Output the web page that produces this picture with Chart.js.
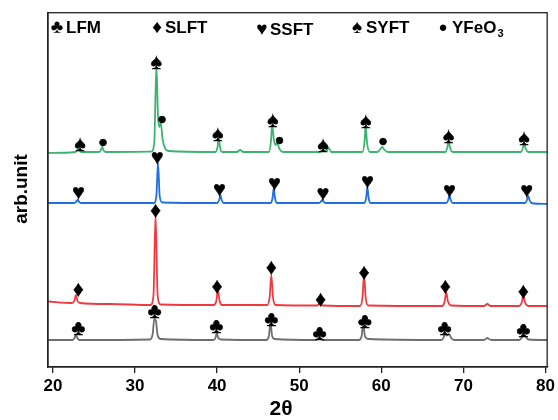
<!DOCTYPE html>
<html>
<head>
<meta charset="utf-8">
<script src="https://cdn.jsdelivr.net/npm/chart.js@4.4.1/dist/chart.umd.min.js"></script>
<style>
  html, body { margin: 0; padding: 0; background: #fff; }
  #wrap { width: 558px; height: 420px; position: relative; }
</style>
</head>
<body>
<div id="wrap"><canvas id="xrdChart"></canvas></div>
<script>
/*
  XRD patterns of LFM, SLFT, SSFT and SYFT, stacked with offsets.
  Intensities are in arbitrary units.
*/
const xTicks = [20, 30, 40, 50, 60, 70, 80];

// LFM (grey)
const lfmX = [19.4, 22.35, 22.6, 22.8, 23.0, 23.25, 31.8, 32.15, 32.35, 32.55, 32.75, 33.1, 39.5, 39.8, 39.95, 40.15, 40.5, 46.0, 46.3, 46.5, 46.7, 47.0, 52.0, 52.3, 52.45, 52.6, 52.9, 57.3, 57.6, 57.8, 58.0, 58.4, 67.3, 67.6, 67.75, 67.95, 68.25, 68.5, 68.9, 72.5, 72.8, 72.9, 73.1, 73.4, 76.8, 77.1, 77.3, 77.55, 77.9, 80.2];
const lfmY = [27, 27, 28.5, 32, 28.5, 27, 27.5, 33, 48, 46, 32, 28, 27, 29, 34, 29, 27.5, 27, 31, 44, 31, 28, 27, 28.5, 30, 28.5, 27, 27, 31, 44, 31, 28, 27, 29.5, 34, 31.5, 33, 29, 27, 27, 28.5, 29, 28, 27, 27, 29.5, 34, 31, 27.5, 27];

// SLFT (red)
const slftX = [19.4, 22.3, 22.6, 22.8, 23.0, 23.3, 27.0, 31.9, 32.25, 32.5, 32.75, 33.1, 39.6, 39.9, 40.1, 40.3, 40.6, 46.1, 46.4, 46.6, 46.8, 47.1, 52.1, 52.35, 52.5, 52.65, 52.9, 57.4, 57.7, 57.9, 58.1, 58.4, 67.4, 67.7, 67.9, 68.1, 68.5, 72.5, 72.9, 73.3, 76.8, 77.1, 77.3, 77.5, 77.9, 80.2];
const slftY = [65.5, 64, 66, 72, 66, 64, 63, 62, 72, 152, 72, 62.5, 62, 66, 77, 66, 62, 62, 70, 92, 70, 62, 61.5, 62.5, 64, 62.5, 61.5, 61, 69, 92, 69, 61.5, 61, 65, 75, 66, 61.5, 61, 63, 61, 61, 64.5, 71, 64.5, 61, 61];

// SSFT (blue)
const ssftX = [19.4, 22.6, 22.85, 23.0, 23.15, 23.4, 32.3, 32.6, 32.8, 33.0, 33.3, 40.0, 40.25, 40.4, 40.55, 40.8, 46.5, 46.75, 46.9, 47.05, 47.3, 52.4, 52.65, 52.8, 52.95, 53.2, 57.9, 58.15, 58.3, 58.45, 58.7, 67.9, 68.15, 68.3, 68.45, 68.7, 77.5, 77.75, 77.9, 78.05, 78.3, 80.2];
const ssftY = [164, 164, 165.5, 167, 165.5, 164, 164, 171, 204, 171, 164.5, 164, 167, 172, 167, 164, 164, 169, 179, 169, 164, 164, 165.5, 167, 165.5, 164, 164, 169, 180, 169, 164, 164, 167, 172, 167, 164, 164, 167, 171, 167, 164, 163];

// SYFT (green)
const syftX = [19.4, 22.7, 22.95, 23.1, 23.25, 23.5, 25.6, 25.85, 26.0, 26.15, 26.4, 32.0, 32.35, 32.6, 32.8, 32.95, 33.15, 33.35, 33.7, 34.1, 39.8, 40.05, 40.2, 40.35, 40.6, 42.4, 42.8, 43.2, 46.3, 46.55, 46.7, 46.9, 47.1, 47.3, 47.6, 48.0, 52.5, 52.75, 52.9, 53.05, 53.3, 53.6, 53.9, 57.7, 57.95, 58.1, 58.25, 58.6, 59.5, 59.85, 60.1, 60.35, 60.8, 67.8, 68.05, 68.2, 68.35, 68.7, 77.0, 77.25, 77.4, 77.55, 77.9, 80.2];
const syftY = [214, 215, 216.5, 219, 216.5, 215, 215, 217, 220, 217, 215, 215.5, 225, 302, 250, 240, 244, 228, 218, 216, 215, 220, 229, 220, 215, 215, 217, 215, 215, 225, 242, 228, 222, 224, 218, 215, 215, 216.5, 219, 216.5, 216, 219, 215, 215, 225, 242, 225, 215, 215, 217.5, 220, 217.5, 215, 215, 220, 227, 220, 215, 215, 219, 224, 219, 215, 215];

// phase markers
const clubX = [23.1, 32.4, 39.9, 46.6, 52.5, 58.0, 67.7, 77.3];
const clubY = [38, 55, 40, 47, 33, 45, 38, 36];
const diamondX = [23.1, 32.5, 40.0, 46.6, 52.6, 57.9, 67.8, 77.3];
const diamondY = [77, 156, 80, 99, 67, 94, 80, 75];
const heartX = [23.1, 32.7, 40.3, 47.0, 52.9, 58.3, 68.3, 77.7];
const heartY = [174, 209, 177, 183, 173, 185, 176, 176];
const spadeX = [23.3, 32.6, 40.1, 46.8, 52.9, 58.1, 68.2, 77.4];
const spadeY = [222, 304, 232, 246, 221, 245, 230, 228];
const dotX = [26.1, 33.3, 47.6, 60.2];
const dotY = [224, 247, 226, 225];

const FONT = "'Liberation Sans', Arial, sans-serif";

function pts(xs, ys) {
  return xs.map((x, i) => ({ x: x, y: ys[i] }));
}

function lineSet(label, xs, ys, color) {
  return {
    label: label,
    data: pts(xs, ys),
    borderColor: color,
    borderWidth: 1.8,
    pointRadius: 0,
    cubicInterpolationMode: "monotone",
    fill: false,
  };
}

const markerSets = [
  { glyph: "\u2663", xs: clubX, ys: clubY },
  { glyph: "\u2666", xs: diamondX, ys: diamondY },
  { glyph: "\u2665", xs: heartX, ys: heartY },
  { glyph: "\u2660", xs: spadeX, ys: spadeY },
  { glyph: "\u25CF", xs: dotX, ys: dotY, size: 16 },
];

const legendItems = [
  { glyph: "\u2663", text: "LFM", gx: 57, tx: 66, y: 28 },
  { glyph: "\u2666", text: "SLFT", gx: 157, tx: 165, y: 28 },
  { glyph: "\u2665", text: "SSFT", gx: 262, tx: 270, y: 30 },
  { glyph: "\u2660", text: "SYFT", gx: 357, tx: 366, y: 28 },
  { glyph: "\u25CF", text: "YFeO", sub: "3", gx: 443, tx: 452, y: 28 },
];

const overlay = {
  id: "overlay",
  afterDatasetsDraw(chart) {
    const ctx = chart.ctx;
    const xs = chart.scales.x;
    const ys = chart.scales.y;
    const area = chart.chartArea;
    ctx.save();
    // frame
    ctx.strokeStyle = "#222";
    ctx.lineWidth = 1.3;
    ctx.strokeRect(area.left, area.top, area.right - area.left, area.bottom - area.top);
    // phase markers
    ctx.fillStyle = "#000";
    ctx.strokeStyle = "#000";
    ctx.lineWidth = 0.6;
    ctx.textAlign = "center";
    ctx.textBaseline = "middle";
    markerSets.forEach((m) => {
      ctx.font = "bold " + (m.size || 21) + "px " + FONT;
      m.xs.forEach((x, i) => {
        const px = xs.getPixelForValue(x);
        const py = ys.getPixelForValue(m.ys[i]);
        ctx.fillText(m.glyph, px, py);
        ctx.strokeText(m.glyph, px, py);
      });
    });
    // legend row
    legendItems.forEach((it) => {
      ctx.textAlign = "center";
      ctx.font = "bold " + (it.glyph === "\u25CF" ? 15 : 19) + "px " + FONT;
      ctx.fillText(it.glyph, it.gx, it.y);
      ctx.textAlign = "left";
      ctx.font = "bold 17px " + FONT;
      ctx.fillText(it.text, it.tx, it.y);
      if (it.sub) {
        const tw = ctx.measureText(it.text).width;
        ctx.font = "bold 11px " + FONT;
        ctx.fillText(it.sub, it.tx + tw + 1, it.y + 6);
      }
    });
    // axis titles
    ctx.textAlign = "center";
    ctx.font = "bold 21px " + FONT;
    ctx.fillText("2\u03B8", 281, 409);
    ctx.translate(22, 189);
    ctx.rotate(-Math.PI / 2);
    ctx.font = "bold 19px " + FONT;
    ctx.fillText("arb.unit", 0, 0);
    ctx.restore();
  },
};

new Chart(document.getElementById("xrdChart"), {
  type: "line",
  data: {
    datasets: [
      lineSet("LFM", lfmX, lfmY, "#6e6e6e"),
      lineSet("SLFT", slftX, slftY, "#f03a42"),
      lineSet("SSFT", ssftX, ssftY, "#1f6fe0"),
      lineSet("SYFT", syftX, syftY, "#3cb371"),
    ],
  },
  options: {
    responsive: true,
    maintainAspectRatio: false,
    animation: false,
    layout: { padding: { top: 12.7, right: 7, left: 0, bottom: 0 } },
    plugins: { legend: { display: false }, tooltip: { enabled: false } },
    scales: {
      x: {
        type: "linear",
        min: 19.4,
        max: 80.2,
        afterBuildTicks: (s) => { s.ticks = xTicks.map((v) => ({ value: v })); },
        afterFit: (s) => { s.height = 53; },
        grid: { display: true, drawOnChartArea: false, drawTicks: true, tickLength: 6, color: "#222", lineWidth: 1.3 },
        border: { display: true, color: "#222", width: 1.3 },
        ticks: { color: "#000", font: { family: FONT, size: 17, weight: "bold" }, padding: 3, maxRotation: 0 },
      },
      y: {
        min: 0,
        max: 354.3,
        afterFit: (s) => { s.width = 48; },
        grid: { display: false },
        border: { display: true, color: "#222", width: 1.3 },
        ticks: { display: false },
      },
    },
  },
  plugins: [overlay],
});
</script>
</body>
</html>
